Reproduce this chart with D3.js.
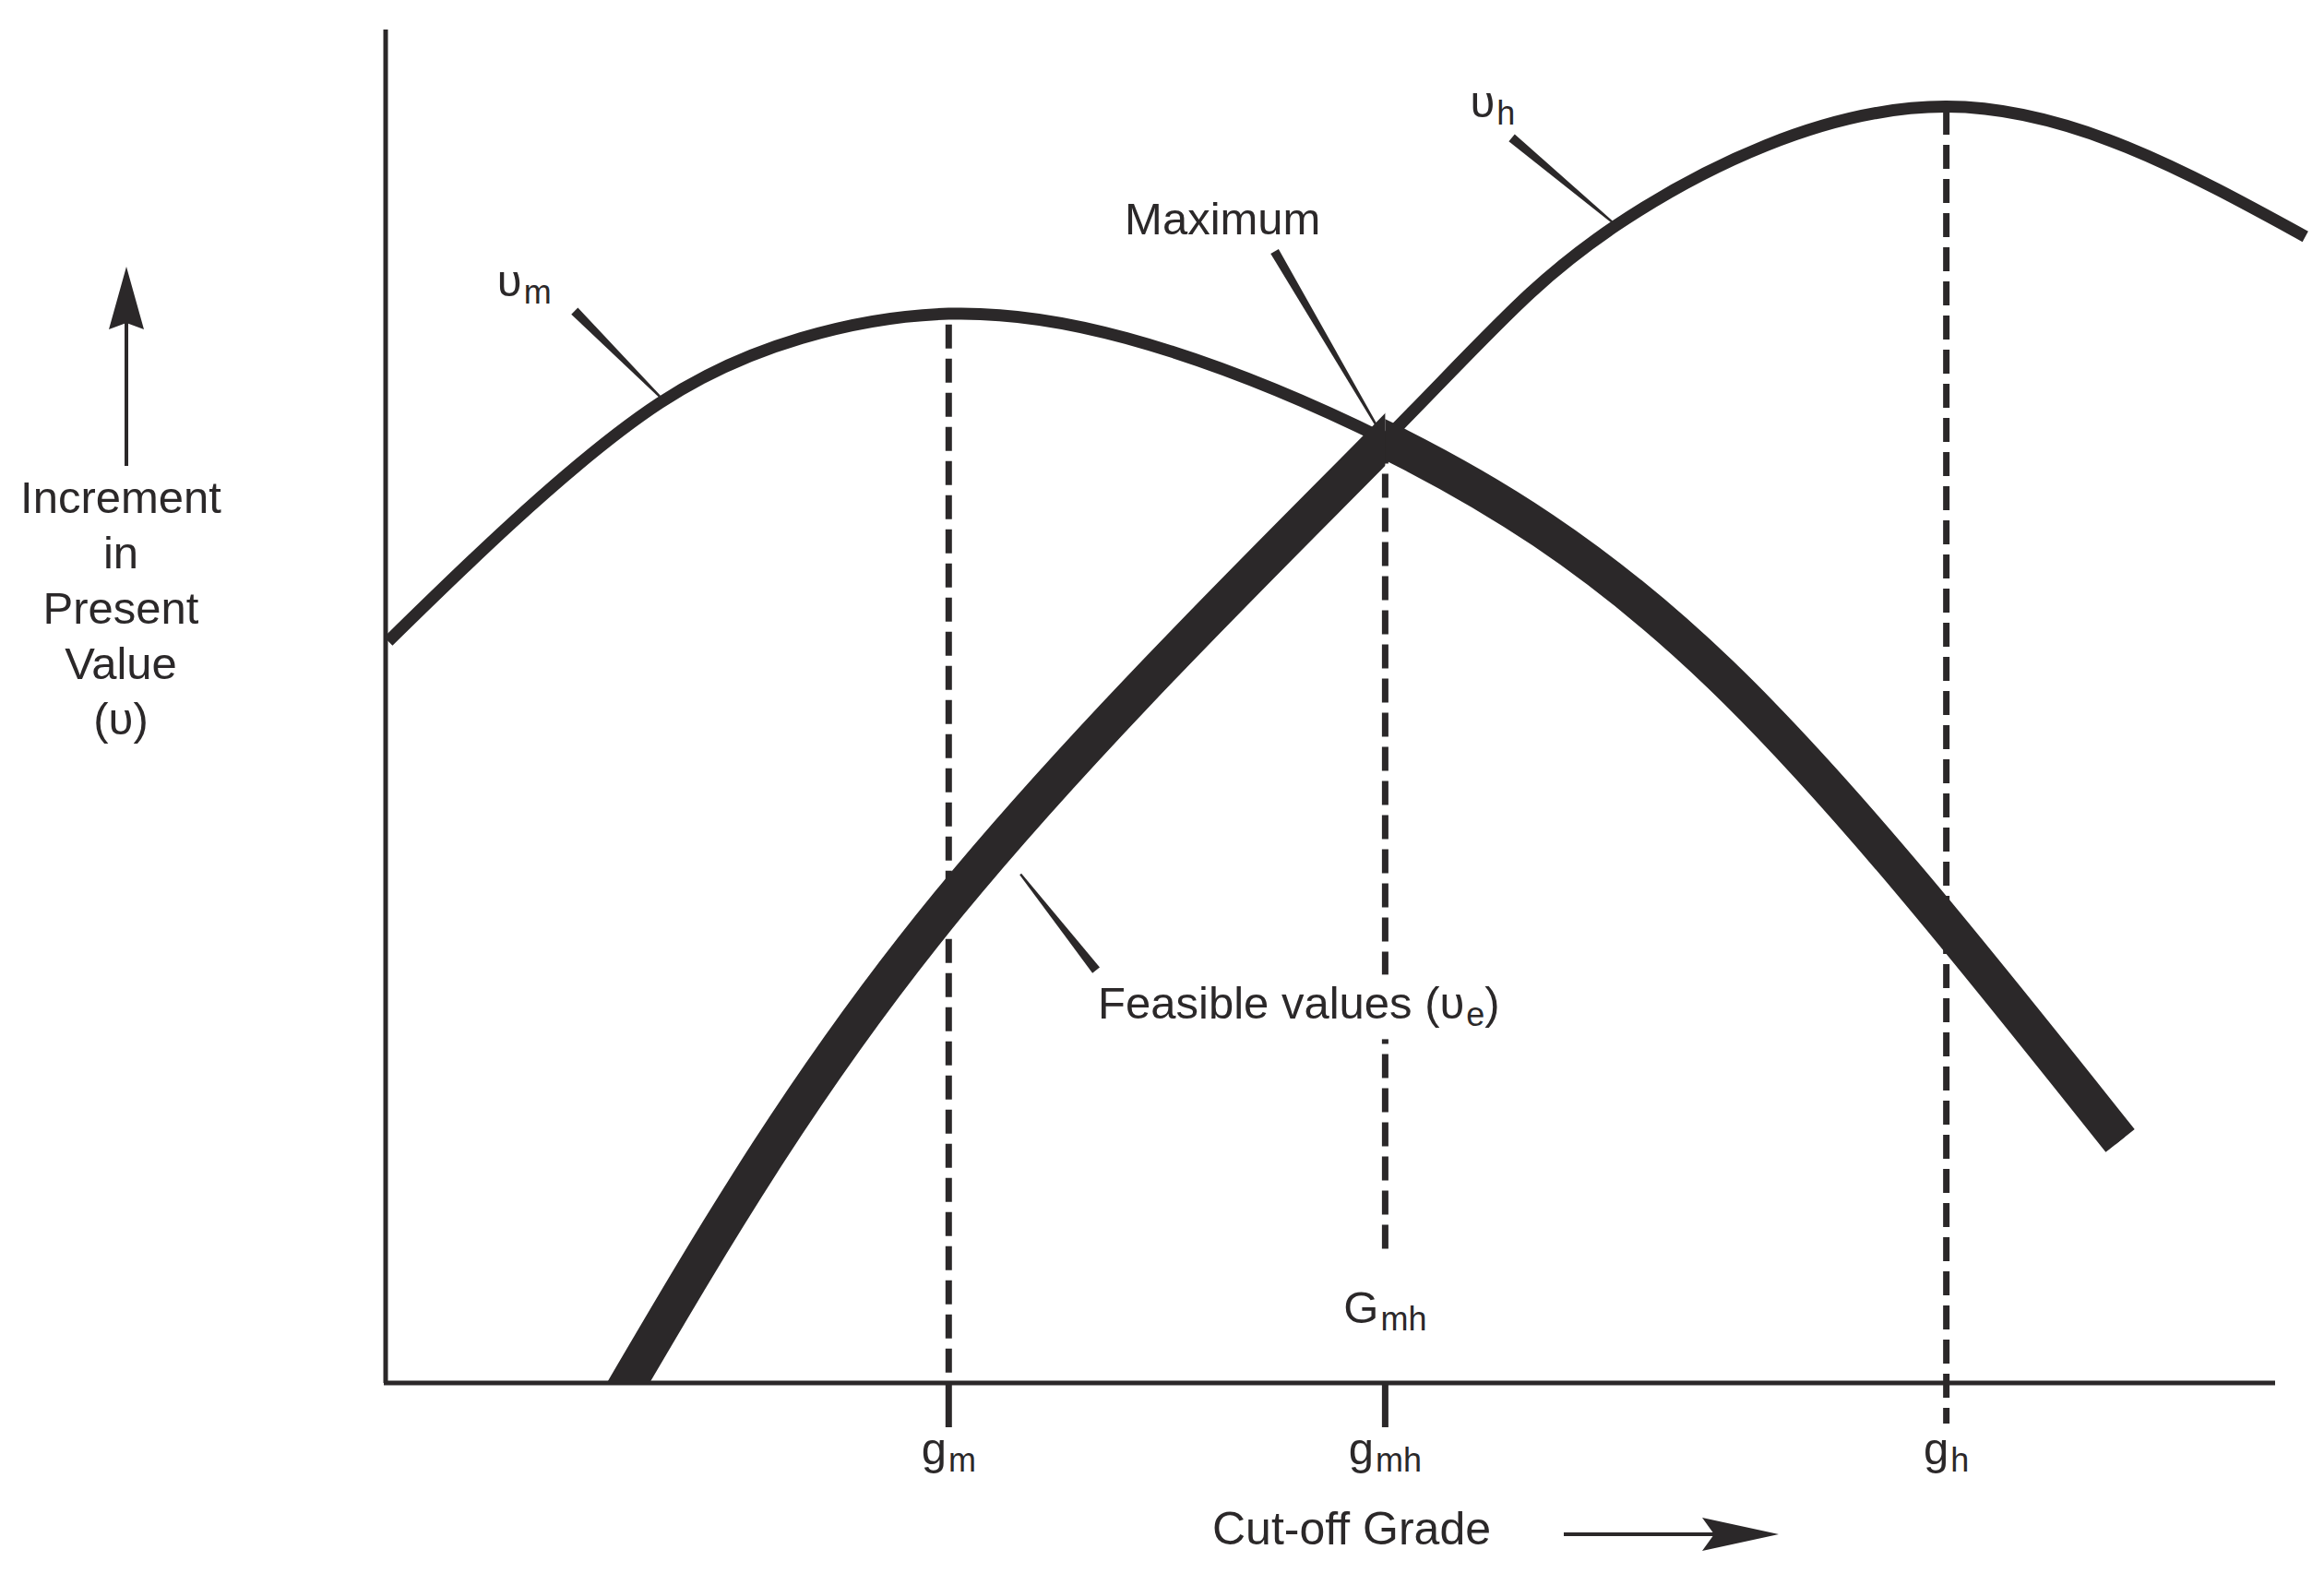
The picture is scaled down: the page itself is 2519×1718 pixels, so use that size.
<!DOCTYPE html>
<html>
<head>
<meta charset="utf-8">
<script src="https://cdn.jsdelivr.net/npm/d3@7"></script>
<style>
  body { margin: 0; background: #fff; }
  text { font-family: "Liberation Sans", Arial, sans-serif; fill: #2b2829; }
</style>
</head>
<body>
<div id="chart"></div>
<script>
// curve v_m (medium grade)
var vmGrade = [0.14, 6.65, 14.5, 22.0, 29.8, 39.2, 52.9, 70.6, 91.8];
var vmValue = [54.8, 63.5, 72.4, 77.2, 79.0, 77.2, 69.7, 52.4, 17.9];
// curve v_h (high grade)
var vhGrade = [12.5, 29.8, 52.9, 65.1, 82.6, 101.6];
var vhValue = [-0.8, 35.4, 69.7, 85.5, 94.3, 84.7];
var crossGrade = 52.9;

// marked grades on the axis
var markGrade = [29.8, 52.9, 82.6];
var markSub = ["m", "mh", "h"];
var dashTop = [78.2, 69.7, 94.0];
var dashBottom = [0, 9.6, -3];

var width = 2519, height = 1718;

var x = d3.scaleLinear().domain([0, 100]).range([418, 2466]);
var y = d3.scaleLinear().domain([0, 100]).range([1499, 32]);

var svg = d3.select("#chart").append("svg")
    .attr("width", width).attr("height", height);

svg.append("rect").attr("width", width).attr("height", height).attr("fill", "#fff");

var ink = "#2b2829";

var defs = svg.append("defs");
defs.append("clipPath").attr("id", "leftPart")
  .append("rect").attr("x", 0).attr("y", 0)
  .attr("width", x(crossGrade)).attr("height", y(0) - 2);
defs.append("clipPath").attr("id", "rightPart")
  .append("rect").attr("x", x(crossGrade)).attr("y", 0)
  .attr("width", width).attr("height", height);
defs.append("clipPath").attr("id", "aboveAxis")
  .append("rect").attr("x", 0).attr("y", 0)
  .attr("width", width).attr("height", y(0) - 2);

var line = d3.line()
  .x(function(d){ return x(d[0]) })
  .y(function(d){ return y(d[1]) })
  .curve(d3.curveNatural);

var vm = d3.zip(vmGrade, vmValue);
var vh = d3.zip(vhGrade, vhValue);

// dashed verticals
markGrade.forEach(function(g, i){
  svg.append("line")
    .attr("x1", x(g)).attr("x2", x(g))
    .attr("y1", y(dashTop[i])).attr("y2", y(dashBottom[i]))
    .attr("stroke", ink).attr("stroke-width", 7)
    .attr("stroke-dasharray", "26,11");
});

// axes
svg.append("line").attr("x1", x(0)).attr("x2", x(0)).attr("y1", y(100)).attr("y2", y(0))
  .attr("stroke", ink).attr("stroke-width", 5);
svg.append("line").attr("x1", x(0) - 2).attr("x2", x(100)).attr("y1", y(0)).attr("y2", y(0))
  .attr("stroke", ink).attr("stroke-width", 5);

// solid ticks below the axis
[0, 1].forEach(function(i){
  svg.append("line")
    .attr("x1", x(markGrade[i])).attr("x2", x(markGrade[i]))
    .attr("y1", y(0)).attr("y2", y(0) + 48)
    .attr("stroke", ink).attr("stroke-width", 7);
});

// thin curves
svg.append("path").attr("d", line(vm)).attr("fill", "none")
  .attr("stroke", ink).attr("stroke-width", 13).attr("clip-path", "url(#aboveAxis)");
svg.append("path").attr("d", line(vh)).attr("fill", "none")
  .attr("stroke", ink).attr("stroke-width", 13).attr("clip-path", "url(#aboveAxis)");

// thick feasible part
svg.append("path").attr("d", line(vh)).attr("fill", "none")
  .attr("stroke", ink).attr("stroke-width", 40).attr("clip-path", "url(#leftPart)");
svg.append("path").attr("d", line(vm)).attr("fill", "none")
  .attr("stroke", ink).attr("stroke-width", 40).attr("clip-path", "url(#rightPart)");

// leader lines, thick end at the label
var leaders = [
  [10.0, 79.2, 14.5, 72.9],
  [59.6, 92.0, 64.9, 85.8],
  [47.05, 83.6, 52.5, 70.6],
  [37.6, 30.5, 33.6, 37.6]
];
leaders.forEach(function(l){
  var x1 = x(l[0]), y1 = y(l[1]), x2 = x(l[2]), y2 = y(l[3]);
  var dx = x2 - x1, dy = y2 - y1, len = Math.sqrt(dx*dx + dy*dy);
  var nx = -dy/len, ny = dx/len;
  var w1 = 5, w2 = 1.2;
  svg.append("path")
    .attr("d", "M" + (x1 + nx*w1) + "," + (y1 + ny*w1) +
               "L" + (x2 + nx*w2) + "," + (y2 + ny*w2) +
               "L" + (x2 - nx*w2) + "," + (y2 - ny*w2) +
               "L" + (x1 - nx*w1) + "," + (y1 - ny*w1) + "Z")
    .attr("fill", ink);
});

var fs = 49, sub = 36;

function label(px, py, main, s, anchor, tail){
  var t = svg.append("text").attr("x", px).attr("y", py)
    .attr("font-size", fs).attr("text-anchor", anchor || "start");
  t.append("tspan").text(main);
  t.append("tspan").attr("font-size", sub).attr("dx", 2).attr("dy", 8).text(s);
  if (tail) t.append("tspan").attr("dy", -8).text(tail);
  return t;
}

label(x(5.9), y(80.3), "\u03c5", "m");
label(x(57.4), y(93.5), "\u03c5", "h");

svg.append("text").attr("x", x(44.3)).attr("y", y(84.9))
  .attr("font-size", fs).attr("text-anchor", "middle").text("Maximum");

// feasible label with white backing to break the dashed line
var feas = label(x(37.7), y(26.9), "Feasible values (\u03c5", "e", "start", ")");
var bb = feas.node().getBBox();
svg.insert("rect", "text").attr("x", x(markGrade[1]) - 12).attr("y", bb.y - 4)
  .attr("width", 24).attr("height", bb.height + 10).attr("fill", "#fff");

label(x(markGrade[1]), y(4.4), "G", "mh", "middle");

markGrade.forEach(function(g, i){
  label(x(g), y(0) + 88, "g", markSub[i], "middle");
});

svg.append("text").attr("x", 1314).attr("y", 1674).attr("font-size", 50).text("Cut-off Grade");

// x arrow
svg.append("line").attr("x1", 1695).attr("x2", 1860).attr("y1", 1663).attr("y2", 1663)
  .attr("stroke", ink).attr("stroke-width", 4);
svg.append("path").attr("d", "M1928,1663L1845,1645L1858,1663L1845,1681Z").attr("fill", ink);

// y label and arrow
var ylab = ["Increment", "in", "Present", "Value", "(\u03c5)"];
ylab.forEach(function(s, i){
  svg.append("text").attr("x", 131).attr("y", 556 + i*60)
    .attr("font-size", fs).attr("text-anchor", "middle").text(s);
});
svg.append("line").attr("x1", 137).attr("x2", 137).attr("y1", 350).attr("y2", 505)
  .attr("stroke", ink).attr("stroke-width", 4);
svg.append("path").attr("d", "M137,289L118,357L137,350L156,357Z").attr("fill", ink);
</script>
</body>
</html>
